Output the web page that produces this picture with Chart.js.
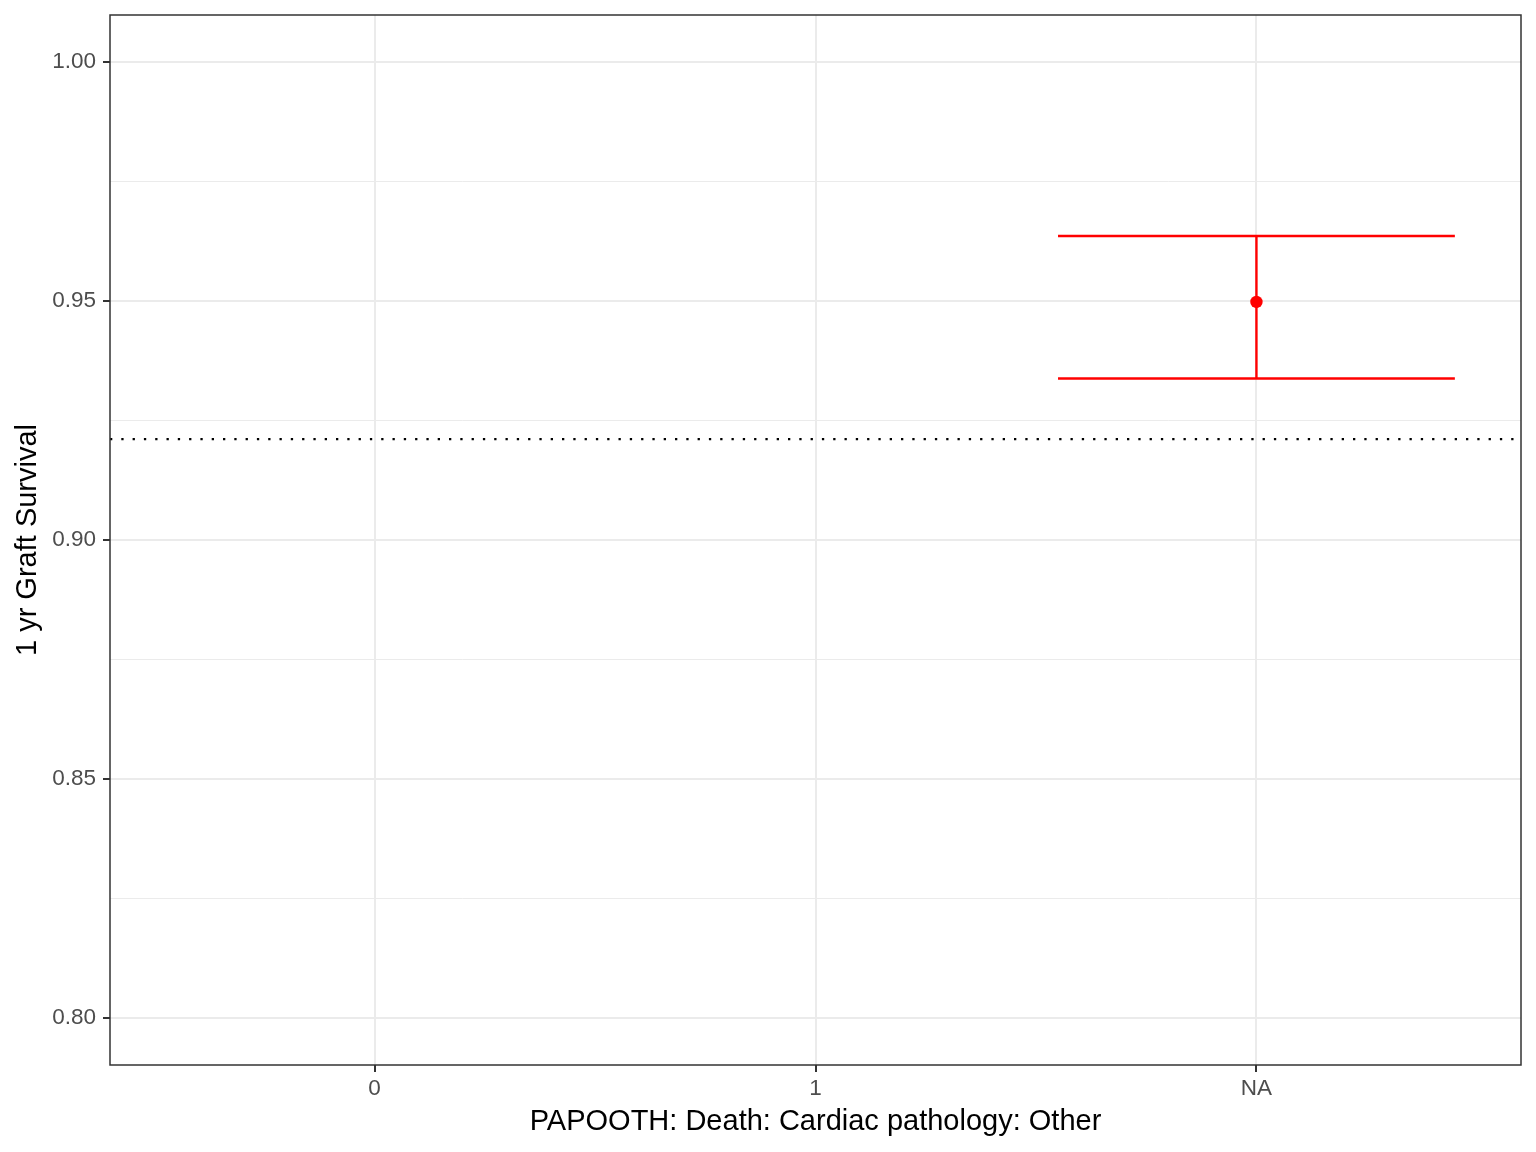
<!DOCTYPE html>
<html>
<head>
<meta charset="utf-8">
<script src="https://cdn.jsdelivr.net/npm/chart.js@4/dist/chart.umd.min.js"></script>
<style>
  html, body { margin: 0; padding: 0; background: #ffffff; }
  #wrap { width: 1536px; height: 1152px; position: relative; }
</style>
</head>
<body>
<div id="wrap"><canvas id="c"></canvas></div>
<script>
// ---- Data ----
const categories = ['0', '1', 'NA'];
const estimate   = [null, null, 0.9498];
const lowerCI    = [null, null, 0.9338];
const upperCI    = [null, null, 0.9636];
const referenceValue = 0.9211;
const yMajorTicks = [0.80, 0.85, 0.90, 0.95, 1.00];
const yMinorTicks = [0.825, 0.875, 0.925, 0.975];
const xTitle = 'PAPOOTH: Death: Cardiac pathology: Other';
const yTitle = '1 yr Graft Survival';

// ---- Styles ----
const FONT = "'Liberation Sans', Arial, Helvetica, sans-serif";
const RED = '#FF0000';
const GRID = '#EBEBEB';
const DARK = '#333333';
const xMin = -0.6, xMax = categories.length - 1 + 0.6;
const yMin = 0.79017, yMax = 1.00983;
const capHalf = 0.45;

const datasets = [];
// reference dotted line across the panel
datasets.push({
  data: [{x: xMin, y: referenceValue}, {x: xMax, y: referenceValue}],
  showLine: true, borderColor: '#000000', borderWidth: 2.3,
  borderDash: [2.3, 9], pointRadius: 0, borderCapStyle: 'butt', order: 5
});
categories.forEach((c, i) => {
  if (estimate[i] == null) return;
  const segs = [
    [{x: i - capHalf, y: upperCI[i]}, {x: i + capHalf, y: upperCI[i]}],
    [{x: i - capHalf, y: lowerCI[i]}, {x: i + capHalf, y: lowerCI[i]}],
    [{x: i, y: lowerCI[i]}, {x: i, y: upperCI[i]}]
  ];
  segs.forEach(s => datasets.push({
    data: s, showLine: true, borderColor: RED, borderWidth: 2.4,
    pointRadius: 0, order: 2
  }));
  datasets.push({
    data: [{x: i, y: estimate[i]}], showLine: false,
    pointRadius: 6.2, pointBackgroundColor: RED, pointBorderWidth: 0,
    pointBorderColor: RED, order: 1
  });
});

const yAllTicks = yMajorTicks.concat(yMinorTicks).sort((a, b) => a - b);
const isMajor = v => yMajorTicks.some(m => Math.abs(m - v) < 1e-9);

const borderPlugin = {
  id: 'panelBorder',
  afterDraw(chart) {
    const {ctx, chartArea: a} = chart;
    ctx.save();
    ctx.strokeStyle = DARK;
    ctx.lineWidth = 1.5;
    ctx.strokeRect(a.left, a.top, a.right - a.left, a.bottom - a.top);
    ctx.restore();
  }
};

new Chart(document.getElementById('c'), {
  type: 'scatter',
  data: { datasets },
  plugins: [borderPlugin],
  options: {
    responsive: true,
    maintainAspectRatio: false,
    animation: false,
    layout: { padding: { top: 15, right: 15, left: 0, bottom: 0 } },
    plugins: { legend: { display: false }, tooltip: { enabled: false } },
    scales: {
      x: {
        type: 'linear', min: xMin, max: xMax,
        afterBuildTicks: s => { s.ticks = categories.map((c, i) => ({ value: i })); },
        afterFit: s => { s.height = 87; s.paddingLeft = 0; s.paddingRight = 0; },
        ticks: {
          callback: v => categories[v],
          color: '#4D4D4D', font: { family: FONT, size: 22.5 }, padding: 3,
          maxRotation: 0, autoSkip: false
        },
        grid: { color: GRID, lineWidth: 2, tickLength: 7, tickColor: DARK, tickWidth: 2 },
        border: { display: false },
        title: {
          display: true, text: xTitle, color: '#000000',
          font: { family: FONT, size: 29, lineHeight: 1.2 },
          padding: { top: 0, bottom: 12.8 }
        }
      },
      y: {
        type: 'linear', min: yMin, max: yMax,
        afterBuildTicks: s => { s.ticks = yAllTicks.map(v => ({ value: v })); },
        afterFit: s => { s.width = 110; s.paddingTop = 0; s.paddingBottom = 0; },
        ticks: {
          callback: v => isMajor(v) ? v.toFixed(2) : '',
          color: '#4D4D4D', font: { family: FONT, size: 22.5 }, padding: 7,
          autoSkip: false
        },
        grid: {
          color: GRID,
          lineWidth: ctx => (ctx.tick && isMajor(ctx.tick.value)) ? 2 : 1,
          tickLength: 7,
          tickColor: ctx => (ctx.tick && isMajor(ctx.tick.value)) ? DARK : 'rgba(0,0,0,0)',
          tickWidth: 2
        },
        border: { display: false },
        title: {
          display: true, text: yTitle, color: '#000000',
          font: { family: FONT, size: 29, lineHeight: 1.2 },
          padding: { top: 11, bottom: 0 }
        }
      }
    }
  }
});
</script>
</body>
</html>
